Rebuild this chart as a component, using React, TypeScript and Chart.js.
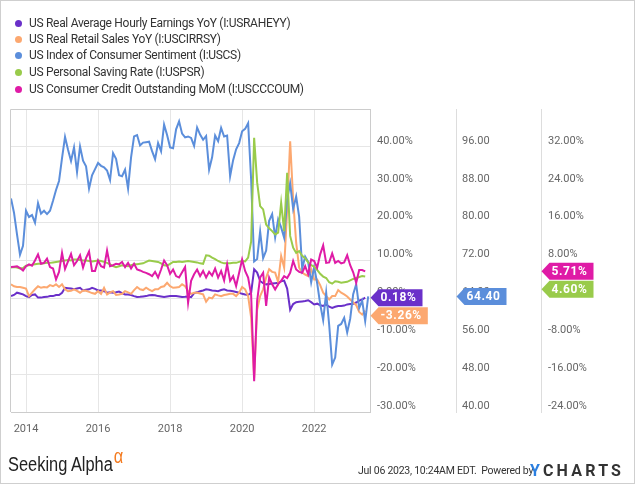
import React, { useEffect, useRef } from 'react';
import { Chart, registerables } from 'chart.js';

Chart.register(...registerables);

// Monthly observations, index 0 = Jul 2013 (plotted at month end)
const startMonth = '2013-07';
const yearTickIndex = [5, 29, 53, 77, 101];
const yearLabels = ['2014', '2016', '2018', '2020', '2022'];

const earningsYoY = [
  0.6, 0.9, 1.5, 1.3, 1.05, 0.6,
  0.35, 0.9, 1.05, 0.2, 0.2, 0.35, 0.4, 0.6, 0.6, 0.9, 0.9, 1.5,
  2.8, 2.7, 2.6, 2.4, 2.6, 2.8, 2.1, 2.3, 2.4, 2.8, 2.5, 2.1,
  2.1, 1.9, 1.5, 1.6, 1.5, 1.6, 1.8, 1.4, 1.05, 1.0, 0.9, 0.6,
  0.35, 0.4, 0.5, 0.6, 0.8, 0.9, 0.8, 0.6, 0.5, 0.35, 0.5, 0.6,
  0.6, 0.6, 0.5, 0.35, 0.4, 0.5, 0.3, 1.4, 1.6, 1.9, 2.1, 2.4,
  2.3, 2.1, 2.0, 1.9, 2.2, 2.4, 2.1, 2.0, 1.9, 1.7, 1.5, 1.2,
  1.0, 0.9, 1.5, 7.7, 6.8, 4.6, 4.0, 3.7, 3.8, 3.9, 4.0, 4.1,
  4.5, 4.7, 2.6, -3.0, -1.5, -1.0, -0.9, -0.8, -0.7, -0.5, -1.0, -1.6,
  -1.4, -1.8, -2.0, -1.6, -2.2, -2.5, -2.2, -2.0, -2.0, -1.9, -1.6, -1.5,
  -1.4, -1.1, -0.6, -0.3, 0.18,
];

const retailSalesYoY = [
  3.7, 3.2, 3.0, 3.0, 2.8, 2.6,
  0.6, 1.5, 2.4, 3.2, 2.8, 3.0, 2.9, 3.5, 3.2, 3.7, 3.0, 3.7,
  2.4, 1.9, 2.0, 2.4, 2.0, 1.5, 2.1, 2.0, 1.7, 1.4, 1.2, 1.9,
  1.2, 2.8, 1.05, 1.6, 1.9, 0.9, 1.0, 1.2, 1.9, 1.6, 1.2, 2.2,
  3.0, 2.4, 2.2, 2.8, 2.3, 1.9, 2.4, 2.4, 3.0, 3.2, 4.1, 3.2,
  2.8, 2.9, 3.0, 3.7, 3.2, 1.9, 1.2, 1.5, 1.5, 1.3, 1.05, -0.9,
  0.2, 0.0, 1.05, 0.8, 0.6, 0.9, 1.05, 1.2, 1.2, 0.6, 1.5, 3.0,
  2.4, 0.6, -5.1, -21.0, -3.0, 0.6, 2.4, 5.5, 7.7, 7.0, 6.8, 4.3,
  11.2, 8.1, 23.5, 41.5, 26.0, 14.7, 8.1, 6.8, 6.3, 5.9, 7.7, 5.0,
  5.0, 3.5, 1.5, 0.6, -0.3, 0.6, 0.6, 2.2, 1.5, 1.05, 0.5, -0.3,
  -1.0, -1.8, -3.6, -4.3, -3.26,
];

const consumerSentiment = [
  85.1, 82.1, 77.5, 73.2, 75.1, 82.5,
  81.2, 81.6, 80.0, 84.1, 81.9, 82.5, 81.8, 82.5, 84.6, 86.9, 88.8, 93.6,
  98.1, 95.4, 93.0, 95.9, 90.7, 96.1, 93.1, 91.9, 87.2, 90.0, 91.3, 92.6,
  92.0, 91.7, 91.0, 89.0, 94.7, 93.5, 90.0, 89.8, 91.2, 87.2, 93.8, 98.2,
  98.5, 96.3, 96.9, 97.0, 97.1, 95.1, 93.4, 96.8, 95.1, 100.7, 98.5, 95.9,
  95.7, 99.7, 101.4, 98.8, 98.0, 98.2, 97.9, 96.2, 100.1, 98.6, 97.5, 98.3,
  91.2, 93.8, 98.4, 97.2, 100.0, 98.2, 98.4, 89.8, 93.2, 95.5, 96.8, 99.3,
  99.8, 101.0, 89.1, 71.8, 72.3, 78.1, 72.5, 74.1, 80.4, 81.8, 76.9, 80.7,
  79.0, 76.8, 84.9, 88.3, 82.9, 85.5, 81.2, 70.3, 72.8, 71.7, 67.4, 70.6,
  67.2, 62.8, 59.4, 65.2, 58.4, 50.0, 51.5, 58.2, 58.6, 59.9, 56.8, 59.7,
  64.9, 67.0, 62.0, 63.5, 59.2, 64.4,
];

const savingRate = [
  6.5, 6.6, 6.5, 6.3, 6.4, 6.9,
  7.0, 7.1, 7.2, 7.3, 7.3, 7.4, 7.5, 7.5, 7.6, 7.7, 7.8, 7.9,
  8.0, 8.1, 8.0, 8.2, 8.2, 8.1, 8.0, 8.0, 7.9, 7.8, 7.9, 8.0,
  7.9, 7.7, 7.5, 7.2, 6.8, 6.6, 6.8, 7.0, 6.9, 6.8, 7.0, 7.2,
  7.2, 7.3, 7.4, 7.7, 8.0, 7.9, 7.8, 7.7, 7.4, 7.0, 6.9, 7.3,
  7.7, 7.7, 7.8, 7.7, 7.8, 7.9, 7.8, 7.7, 7.6, 7.4, 7.3, 9.1,
  9.0, 8.6, 8.3, 7.9, 7.6, 7.4, 7.4, 7.4, 7.5, 7.5, 7.7, 7.9,
  7.8, 8.6, 12.0, 33.9, 24.5, 19.5, 18.8, 15.6, 14.8, 14.2, 13.5, 13.9,
  20.2, 14.2, 26.5, 13.2, 10.7, 9.6, 10.0, 9.0, 8.5, 7.6, 7.0, 6.7,
  6.0, 5.2, 4.6, 4.3, 3.4, 3.1, 3.6, 3.5, 3.3, 3.4, 3.5, 3.8,
  4.1, 4.3, 4.5, 4.7, 4.6,
];

const creditMoM = [
  6.6, 6.7, 6.8, 6.4, 5.9, 6.8,
  7.2, 6.9, 8.0, 9.3, 7.3, 7.5, 8.4, 6.6, 6.3, 4.0, 5.6, 9.6,
  6.2, 7.8, 9.4, 7.0, 7.9, 9.1, 6.5, 8.5, 9.9, 5.8, 5.8, 8.0,
  6.8, 6.5, 10.1, 6.8, 7.0, 7.3, 7.2, 7.7, 6.6, 7.5, 6.3, 7.3,
  6.1, 5.9, 5.6, 5.4, 5.1, 4.7, 5.6, 4.4, 6.1, 8.0, 7.0, 5.2,
  6.1, 4.7, 4.4, 5.5, 6.6, -0.9, 3.7, 5.1, 6.1, 4.7, 5.8, 4.4,
  5.6, 4.8, 6.3, 4.4, 5.8, 3.8, 7.2, 3.7, 4.7, 2.6, 5.4, 8.2,
  5.8, 4.4, 0.8, -17.5, -0.5, 4.4, 5.4, -1.6, 4.4, 3.0, 1.9, 3.0,
  3.7, 4.7, 4.3, 5.4, 7.9, 6.1, 5.6, 5.4, 6.8, 5.1, 8.2, 7.9,
  6.5, 9.3, 11.2, 7.5, 7.6, 9.5, 7.5, 7.9, 7.4, 7.6, 9.1, 7.0,
  5.5, 3.3, 6.0, 6.0, 5.71,
];

const seriesNames = [
  'US Real Average Hourly Earnings YoY (I:USRAHEYY)',
  'US Real Retail Sales YoY (I:USCIRRSY)',
  'US Index of Consumer Sentiment (I:USCS)',
  'US Personal Saving Rate (I:USPSR)',
  'US Consumer Credit Outstanding MoM (I:USCCCOUM)',
];
const seriesColors = ['#6a30c9', '#fca870', '#5b8edb', '#99cb4b', '#df1ba6'];
const seriesValues = [earningsYoY, retailSalesYoY, consumerSentiment, savingRate, creditMoM];
const seriesAxes = ['yPct', 'yPct', 'ySent', 'yRight', 'yRight'];
const seriesUnits = ['%', '%', '', '%', '%'];

const toPoints = (vals: number[]) => vals.map((v, i) => ({ x: i, y: v }));

const tagPlugin = {
  id: 'lastValueTags',
  afterDraw(chart: any) {
    const ctx = chart.ctx as CanvasRenderingContext2D;
    const groups: Record<string, { y: number; text: string; color: string }[]> = {};
    seriesValues.forEach((vals, k) => {
      const axisId = seriesAxes[k];
      const scale = chart.scales[axisId];
      const last = vals[vals.length - 1];
      const y = scale.getPixelForValue(last);
      (groups[axisId] = groups[axisId] || []).push({
        y,
        text: last.toFixed(2) + seriesUnits[k],
        color: seriesColors[k],
      });
    });
    const h = 17;
    Object.keys(groups).forEach((axisId) => {
      const scale = chart.scales[axisId];
      const items = groups[axisId].sort((a, b) => a.y - b.y);
      for (let i = 1; i < items.length; i++) {
        if (items[i].y < items[i - 1].y + h + 1) items[i].y = items[i - 1].y + h + 1;
      }
      const xTip = scale.left + 0.5;
      items.forEach((it) => {
        ctx.save();
        ctx.font = 'bold 12px Roboto';
        (ctx as any).letterSpacing = '0.6px';
        const tw = ctx.measureText(it.text).width;
        const arrow = 8;
        const w = arrow + 2 + tw + 6;
        const yc = it.y;
        ctx.beginPath();
        ctx.moveTo(xTip, yc);
        ctx.lineTo(xTip + arrow, yc - h / 2);
        ctx.lineTo(xTip + w, yc - h / 2);
        ctx.lineTo(xTip + w, yc + h / 2);
        ctx.lineTo(xTip + arrow, yc + h / 2);
        ctx.closePath();
        ctx.fillStyle = it.color;
        ctx.fill();
        ctx.fillStyle = '#ffffff';
        ctx.textAlign = 'left';
        ctx.textBaseline = 'middle';
        ctx.fillText(it.text, xTip + arrow + 2, yc + 0.5);
        ctx.restore();
      });
    });
  },
};

const framePlugin = {
  id: 'frame',
  beforeDatasetsDraw(chart: any) {
    const { ctx, chartArea } = chart;
    ctx.save();
    ctx.strokeStyle = '#cccccc';
    ctx.lineWidth = 1;
    ctx.beginPath();
    ctx.moveTo(chartArea.left - 0.5, chartArea.bottom);
    ctx.lineTo(chartArea.left - 0.5, chartArea.top + 0.5);
    ctx.lineTo(chartArea.right, chartArea.top + 0.5);
    ctx.stroke();
    ctx.restore();
  },
};

export default function App() {
  const ref = useRef<HTMLCanvasElement>(null);

  useEffect(() => {
    document.body.style.margin = '0';
    const canvas = ref.current;
    if (!canvas) return;
    const tickFont = { family: 'Roboto', size: 11 };
    const chart = new Chart(canvas, {
      type: 'line',
      data: {
        datasets: seriesValues.map((vals, k) => ({
          label: seriesNames[k],
          data: toPoints(vals),
          borderColor: seriesColors[k],
          backgroundColor: seriesColors[k],
          borderWidth: 2,
          pointRadius: 0,
          tension: 0,
          yAxisID: seriesAxes[k],
          order: 4 - k,
        })),
      },
      options: {
        responsive: false,
        animation: false,
        events: [],
        layout: { padding: { left: 11, top: 109, right: 10, bottom: 42 } },
        plugins: { legend: { display: false }, tooltip: { enabled: false } },
        scales: {
          x: {
            type: 'linear',
            min: 0,
            max: 119.6,
            afterBuildTicks: (scale: any) => {
              scale.ticks = yearTickIndex.map((v) => ({ value: v }));
            },
            afterFit: (scale: any) => {
              scale.height = 30;
            },
            ticks: {
              autoSkip: false,
              maxRotation: 0,
              padding: 11,
              color: '#666666',
              font: tickFont,
              callback: (_v: any, i: number) => yearLabels[i],
            },
            grid: { color: '#e6e6e6', drawTicks: false },
            border: { color: '#cccccc' },
          },
          yPct: {
            type: 'linear',
            position: 'right',
            min: -30,
            max: 50,
            afterFit: (scale: any) => {
              scale.width = 86;
            },
            ticks: {
              stepSize: 10,
              padding: 7,
              labelOffset: -6,
              color: '#666666',
              font: tickFont,
              callback: (v: any) => (v >= 50 ? '' : Number(v).toFixed(2) + '%'),
            },
            grid: { color: '#e6e6e6', drawTicks: false },
            border: { color: '#cccccc' },
          },
          ySent: {
            type: 'linear',
            position: 'right',
            min: 40,
            max: 104,
            afterFit: (scale: any) => {
              scale.width = 85;
            },
            ticks: {
              stepSize: 8,
              padding: 6,
              labelOffset: -6,
              color: '#666666',
              font: tickFont,
              callback: (v: any) => (v >= 104 ? '' : Number(v).toFixed(2)),
            },
            grid: { display: false, drawTicks: false },
            border: { color: '#dddddd' },
          },
          yRight: {
            type: 'linear',
            position: 'right',
            min: -24,
            max: 40,
            afterFit: (scale: any) => {
              scale.width = 84;
            },
            ticks: {
              stepSize: 8,
              padding: 7,
              labelOffset: -6,
              color: '#666666',
              font: tickFont,
              callback: (v: any) => (v >= 40 ? '' : Number(v).toFixed(2) + '%'),
            },
            grid: { display: false, drawTicks: false },
            border: { color: '#dddddd' },
          },
        },
      } as any,
      plugins: [framePlugin, tagPlugin],
    });
    return () => chart.destroy();
  }, []);

  const legendTops = [23, 39, 55, 72, 89];

  return (
    <div
      data-start={startMonth}
      style={{
        position: 'fixed',
        left: 0,
        top: 0,
        width: 635,
        height: 484,
        background: '#ffffff',
        fontFamily: 'Roboto, sans-serif',
        overflow: 'hidden',
      }}
    >
      <canvas ref={ref} width={635} height={484} style={{ position: 'absolute', left: 0, top: 0 }} />
      {seriesNames.map((name, k) => (
        <div
          key={name}
          style={{
            position: 'absolute',
            left: 15,
            top: legendTops[k] - 8,
            height: 16,
            lineHeight: '16px',
            fontSize: 12,
            letterSpacing: '-0.3px',
            color: '#333333',
            whiteSpace: 'nowrap',
            display: 'flex',
            alignItems: 'center',
          }}
        >
          <span
            style={{
              display: 'inline-block',
              width: 7,
              height: 7,
              borderRadius: '50%',
              background: seriesColors[k],
              marginRight: 7,
            }}
          />
          <span>{name}</span>
        </div>
      ))}
      <div
        style={{
          position: 'absolute',
          left: 8,
          top: 452,
          fontFamily: '"Liberation Sans", Arial, sans-serif',
          fontSize: 20,
          color: '#222222',
          whiteSpace: 'nowrap',
          transform: 'scaleX(0.82)',
          transformOrigin: 'left top',
          lineHeight: '24px',
        }}
      >
        Seeking Alpha
        <span style={{ color: '#f47b20', fontSize: 20, position: 'relative', top: -8, marginLeft: 1 }}>α</span>
      </div>
      <div
        style={{
          position: 'absolute',
          left: 358,
          top: 463,
          fontSize: 10.5,
          color: '#333333',
          whiteSpace: 'nowrap',
          lineHeight: '16px',
          letterSpacing: '-0.25px',
        }}
      >
        Jul 06 2023, 10:24AM EDT.&nbsp; Powered by
      </div>
      <div
        style={{
          position: 'absolute',
          left: 530,
          top: 461,
          fontSize: 16,
          fontWeight: 700,
          color: '#333333',
          whiteSpace: 'nowrap',
          lineHeight: '20px',
          letterSpacing: '3.2px',
        }}
      >
        <span style={{ color: '#2b7fe0' }}>Y</span>CHARTS
      </div>
      <div
        style={{
          position: 'absolute',
          left: 0,
          top: 0,
          width: 635,
          height: 484,
          boxSizing: 'border-box',
          border: '1px solid #cfcfcf',
          pointerEvents: 'none',
        }}
      />
    </div>
  );
}
